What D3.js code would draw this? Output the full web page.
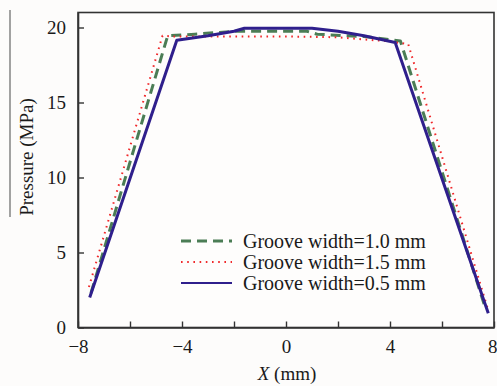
<!DOCTYPE html>
<html>
<head>
<meta charset="utf-8">
<script src="https://cdn.jsdelivr.net/npm/d3@7/dist/d3.min.js"></script>
<style>
  html, body { margin: 0; padding: 0; background: #fdfcfb; }
  svg { display: block; }
  text { font-family: "Liberation Serif", "Times New Roman", serif; fill: #1a1a1a; }
</style>
</head>
<body>
<svg id="chart" width="497" height="386"></svg>
<script>
// Pressure profiles across the groove for three groove widths
const xTicks = [-8, -6, -4, -2, 0, 2, 4, 6, 8];
const xTickLabels = ["\u22128", "", "\u22124", "", "0", "", "4", "", "8"];
const yTicks = [0, 5, 10, 15, 20];

const width05 = [
  [-7.55, 2.0], [-4.2, 19.15], [-3.0, 19.45], [-2.0, 19.75], [-1.6, 19.95],
  [1.0, 19.95], [2.0, 19.75], [3.0, 19.45], [4.2, 19.0], [7.78, 0.95]
];
const width10 = [
  [-7.5, 2.3], [-4.55, 19.45], [-3.5, 19.55], [-2.0, 19.75], [0.8, 19.75],
  [1.2, 19.55], [3.0, 19.4], [4.4, 19.1], [7.65, 1.4]
];
const width15 = [
  [-7.58, 2.7], [-4.75, 19.45], [-4.3, 19.4], [0.0, 19.4], [2.0, 19.35],
  [3.0, 19.2], [3.8, 19.1], [4.7, 18.9], [7.75, 1.3]
];

const seriesNames = ["Groove width=1.0 mm", "Groove width=1.5 mm", "Groove width=0.5 mm"];

const series = [
  { name: seriesNames[0], data: width10, color: "#4b7d55", width: 3, dash: "10,6" },
  { name: seriesNames[1], data: width15, color: "#f0282a", width: 2, dash: "1.6,4.6" },
  { name: seriesNames[2], data: width05, color: "#2f1f8c", width: 3, dash: null }
];

const svg = d3.select("#chart");
const plotLeft = 78, plotRight = 494, plotTop = 12.5, plotBottom = 327.5;

const x = d3.scaleLinear().domain([-8, 8]).range([plotLeft, plotRight]);
const y = d3.scaleLinear().domain([0, 21]).range([plotBottom, plotTop]);

// frame
svg.append("rect")
  .attr("x", plotLeft).attr("y", plotTop)
  .attr("width", plotRight - plotLeft).attr("height", plotBottom - plotTop)
  .attr("fill", "#fefdfc").attr("stroke", "#333").attr("stroke-width", 1.6);

// stray left rule beside the axis title
svg.append("line")
  .attr("x1", 10).attr("x2", 10).attr("y1", 10).attr("y2", 217)
  .attr("stroke", "#666").attr("stroke-width", 1.2);

// x axis, ticks pointing inward
const xAxis = d3.axisBottom(x).tickValues(xTicks)
  .tickSizeInner(-6).tickSizeOuter(0).tickPadding(12)
  .tickFormat((d, i) => xTickLabels[i]);
const gx = svg.append("g").attr("transform", `translate(0,${plotBottom})`).call(xAxis);
gx.select(".domain").attr("stroke", "#333").attr("stroke-width", 1.6);
gx.selectAll(".tick line").attr("stroke", "#333").attr("stroke-width", 1.4);
gx.selectAll(".tick text").attr("font-size", 19).attr("font-family", "Liberation Serif").attr("fill", "#1a1a1a");
// last label sits against the right edge
gx.selectAll(".tick text").filter(d => d === 8)
  .attr("text-anchor", "end").attr("x", 497 - x(8));

// y axis, ticks pointing inward
const yAxis = d3.axisLeft(y).tickValues(yTicks)
  .tickSizeInner(-6).tickSizeOuter(0).tickPadding(12)
  .tickFormat(d3.format("d"));
const gy = svg.append("g").attr("transform", `translate(${plotLeft},0)`).call(yAxis);
gy.select(".domain").attr("stroke", "#333").attr("stroke-width", 1.6);
gy.selectAll(".tick line").attr("stroke", "#333").attr("stroke-width", 1.4);
gy.selectAll(".tick text").attr("font-size", 19).attr("font-family", "Liberation Serif").attr("fill", "#1a1a1a");

// data lines
const line = d3.line().x(d => x(d[0])).y(d => y(d[1]));
const plot = svg.append("g");
series.forEach(s => {
  plot.append("path")
    .datum(s.data)
    .attr("d", line)
    .attr("fill", "none")
    .attr("stroke", s.color)
    .attr("stroke-width", s.width)
    .attr("stroke-linejoin", "round")
    .attr("stroke-dasharray", s.dash);
});

// legend
const legend = svg.append("g");
const legendY = [241, 262, 283];
series.forEach((s, i) => {
  legend.append("line")
    .attr("x1", 181).attr("x2", 232)
    .attr("y1", legendY[i]).attr("y2", legendY[i])
    .attr("stroke", s.color)
    .attr("stroke-width", i === 0 ? 3 : 2)
    .attr("stroke-dasharray", s.dash);
  legend.append("text")
    .attr("x", 243).attr("y", legendY[i] + 6.5)
    .attr("font-size", 20)
    .text(s.name);
});

// axis titles
const xt = svg.append("text")
  .attr("x", 287).attr("y", 380)
  .attr("text-anchor", "middle")
  .attr("font-size", 19);
xt.append("tspan").attr("font-style", "italic").text("X");
xt.append("tspan").text(" (mm)");

svg.append("text")
  .attr("transform", "translate(33,157) rotate(-90)")
  .attr("text-anchor", "middle")
  .attr("font-size", 19)
  .text("Pressure (MPa)");
</script>
</body>
</html>
